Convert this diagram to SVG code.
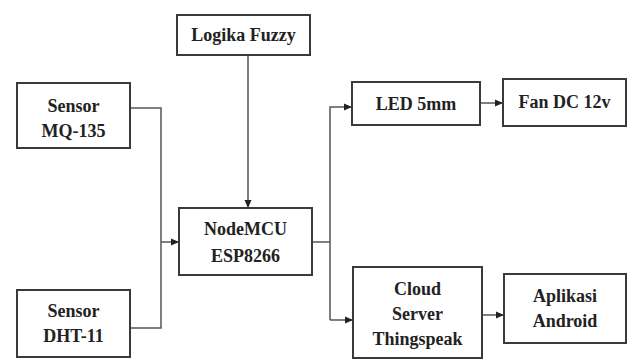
<svg xmlns="http://www.w3.org/2000/svg" width="627" height="360" viewBox="0 0 627 360">
<style>
.box{fill:#fff;stroke:#3a3a3a;stroke-width:2}
.t{font-family:"Liberation Serif","Times New Roman",serif;font-weight:bold;font-size:18px;fill:#222;text-anchor:middle}
.c{fill:none;stroke:#555;stroke-width:1.5}
</style>
<defs>
<marker id="ah" markerWidth="8" markerHeight="8" refX="7" refY="4" orient="auto" markerUnits="userSpaceOnUse">
<path d="M0,0.5 L8,4 L0,7.5 Z" fill="#222"/>
</marker>
</defs>
<rect width="627" height="360" fill="#fff"/>
<g id="connectors">
<path class="c" d="M248,55 V207" marker-end="url(#ah)"/>
<path class="c" d="M130,108 H161 V328 H130"/>
<path class="c" d="M161,242 H178" marker-end="url(#ah)"/>
<path class="c" d="M312,242 H330"/>
<path class="c" d="M330,320 V107 H351" marker-end="url(#ah)"/>
<path class="c" d="M330,320 H352" marker-end="url(#ah)"/>
<path class="c" d="M480,103 H502" marker-end="url(#ah)"/>
<path class="c" d="M482,315 H503" marker-end="url(#ah)"/>
</g>
<g id="logika">
<rect class="box" x="177" y="15" width="133" height="40"/>
<text class="t" x="243.5" y="41">Logika Fuzzy</text>
</g>
<g id="mq135">
<rect class="box" x="17" y="83" width="113" height="65"/>
<text class="t" x="73.5" y="112">Sensor</text>
<text class="t" x="73.5" y="137">MQ-135</text>
</g>
<g id="dht11">
<rect class="box" x="17" y="290" width="113" height="67"/>
<text class="t" x="73.5" y="317">Sensor</text>
<text class="t" x="73.5" y="342">DHT-11</text>
</g>
<g id="nodemcu">
<rect class="box" x="179" y="208" width="133" height="67"/>
<text class="t" x="245.5" y="235">NodeMCU</text>
<text class="t" x="245.5" y="262">ESP8266</text>
</g>
<g id="led">
<rect class="box" x="352" y="82" width="128" height="43"/>
<text class="t" x="416" y="110">LED 5mm</text>
</g>
<g id="fan">
<rect class="box" x="503" y="79" width="123" height="47"/>
<text class="t" x="564.5" y="108">Fan DC 12v</text>
</g>
<g id="cloud">
<rect class="box" x="353" y="267" width="129" height="91"/>
<text class="t" x="417.5" y="295">Cloud</text>
<text class="t" x="417.5" y="320">Server</text>
<text class="t" x="417.5" y="345">Thingspeak</text>
</g>
<g id="aplikasi">
<rect class="box" x="504" y="274" width="122" height="69"/>
<text class="t" x="565" y="302">Aplikasi</text>
<text class="t" x="565" y="327">Android</text>
</g>
</svg>
